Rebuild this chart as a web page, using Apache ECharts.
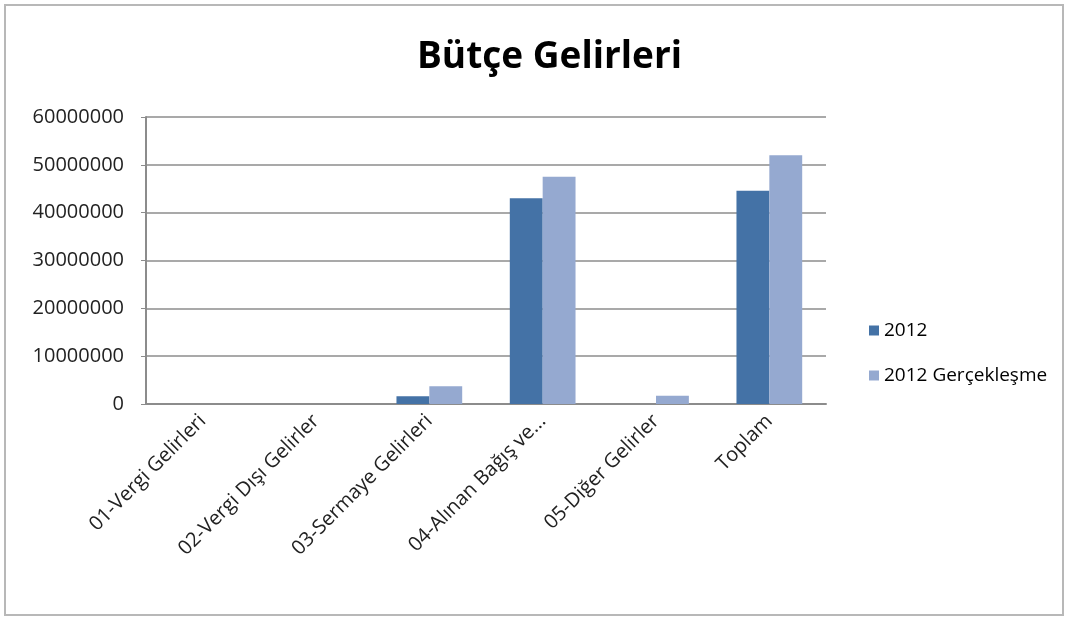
<!DOCTYPE html>
<html lang="tr">
<head>
<meta charset="UTF-8">
<title>Bütçe Gelirleri</title>
<script src="https://cdn.jsdelivr.net/npm/echarts@6/dist/echarts.min.js"></script>
<style>
    html, body { margin: 0; height: 100%; background: #fff; }
    #main { width: 1070px; height: 619px; }
</style>
</head>
<body>
<div id="main"></div>
<script>
    // kategoriler ve seriler
    var categories = ['01-Vergi Gelirleri', '02-Vergi Dışı Gelirler', '03-Sermaye Gelirleri', '04-Alınan Bağış ve...', '05-Diğer Gelirler', 'Toplam'];
    var butce2012 = [0, 0, 1600000, 43000000, 0, 44600000];
    var gerceklesme2012 = [0, 0, 3700000, 47500000, 1700000, 52000000];
    var seriesNames = ['2012', '2012 Gerçekleşme'];

    var myChart = echarts.init(document.getElementById('main'));

    var option = {
        animation: false,
        color: ['#4472a6', '#95a9d0'],
        textStyle: { fontFamily: 'Open Sans' },
        graphic: [{
            type: 'rect',
            shape: { x: 5, y: 5, width: 1058, height: 610 },
            style: { fill: 'none', stroke: '#b8b8b8', lineWidth: 2 }
        }],
        title: {
            text: 'Bütçe Gelirleri',
            left: 412,
            top: 34,
            textStyle: { fontSize: 37, fontWeight: 'bold', color: '#000', fontFamily: 'Open Sans' }
        },
        legend: {
            orient: 'vertical',
            left: 864,
            top: 316,
            itemGap: 26,
            itemWidth: 10,
            itemHeight: 10,
            icon: 'rect',
            textStyle: { fontSize: 19, color: '#000' },
            data: seriesNames
        },
        grid: { left: 146, right: 244, top: 117, bottom: 215 },
        xAxis: {
            type: 'category',
            data: categories,
            axisLine: { lineStyle: { color: '#8c8c8c', width: 2 } },
            axisTick: { show: false },
            axisLabel: { rotate: 45, fontSize: 20, color: '#222', margin: 14, interval: 0 }
        },
        yAxis: {
            type: 'value',
            min: 0,
            max: 60000000,
            interval: 10000000,
            axisLine: { show: true, lineStyle: { color: '#8c8c8c', width: 2 } },
            axisTick: { show: true, length: 5, lineStyle: { color: '#8c8c8c' } },
            axisLabel: { fontSize: 20, color: '#222', margin: 22, formatter: function (v) { return String(v); } },
            splitLine: { lineStyle: { color: '#8c8c8c', width: 1.5 } }
        },
        series: [
            {
                name: seriesNames[0],
                type: 'bar',
                data: butce2012,
                barGap: '0%',
                barCategoryGap: '42%'
            },
            {
                name: seriesNames[1],
                type: 'bar',
                data: gerceklesme2012
            }
        ]
    };

    myChart.setOption(option);
</script>
</body>
</html>
